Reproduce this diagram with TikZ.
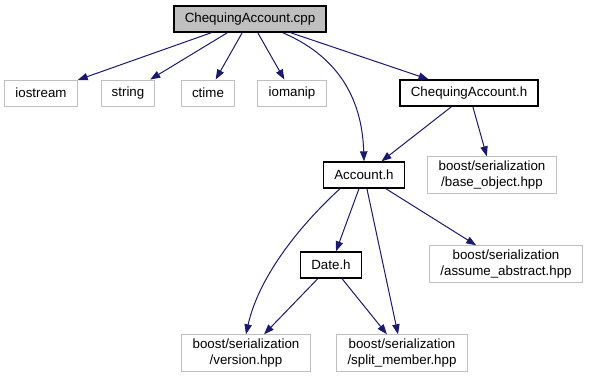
\documentclass[tikz,border=0pt]{standalone}
\usepackage{fontspec}
\setmainfont{Liberation Sans}
\usetikzlibrary{arrows.meta}
\definecolor{edgeblue}{HTML}{191970}
\definecolor{boxgray}{HTML}{BFBFBF}

\tikzset{
  file/.style={draw=boxgray, line width=0.75pt, inner xsep=8pt, inner ysep=3pt,
    minimum height=19.5pt, align=center, font=\fontsize{10}{12}\selectfont},
  local/.style={file, draw=black, line width=1pt},
  dep/.style={draw=edgeblue, line width=0.75pt,
    -{Triangle[length=7.5pt,width=5.5pt]}}
}

\begin{document}
\begin{tikzpicture}[x=0.75pt,y=-0.75pt]
   \useasboundingbox (0,0) rectangle (593,380);
   % top file and its includes
   \node[local,fill=boxgray] (cpp) at (250,19) {ChequingAccount.cpp};
   \node[file] (iostream) at (41,93) {iostream};
   \node[file] (string) at (128,93) {string};
   \node[file] (ctime) at (208,93) {ctime};
   \node[file] (iomanip) at (292,93) {iomanip};
   \node[local] (cah) at (469,93) {ChequingAccount.h};
   \node[local] (acc) at (364,175) {Account.h};
   \node[file] (baseobj) at (492,175) {boost/serialization\\/base\_object.hpp};
   \node[local] (date) at (331,265) {Date.h};
   \node[file] (abstract) at (506,264) {boost/serialization\\/assume\_abstract.hpp};
   \node[file] (version) at (246,353) {boost/serialization\\/version.hpp};
   \node[file] (split) at (402,353) {boost/serialization\\/split\_member.hpp};

   % include edges
   \draw[dep] (cpp) -- (iostream);
   \draw[dep] (cpp) -- (string);
   \draw[dep] (cpp) -- (ctime);
   \draw[dep] (cpp) -- (iomanip);
   \draw[dep] (cpp) -- (cah);
   \draw[dep] (cpp.south east) ++(-44,0) .. controls (335,55) and (362,95) .. (acc.north);
   \draw[dep] (cah) -- (acc);
   \draw[dep] (cah) -- (baseobj);
   \draw[dep] (acc) -- (date);
   \draw[dep] (acc) -- (abstract);
   \draw[dep] (acc) -- (split);
   \draw[dep] (acc.south) ++(-24,0) .. controls (295,230) and (258,280) .. (version.north);
   \draw[dep] (date) -- (version);
   \draw[dep] (date) -- (split);
\end{tikzpicture}
\end{document}
